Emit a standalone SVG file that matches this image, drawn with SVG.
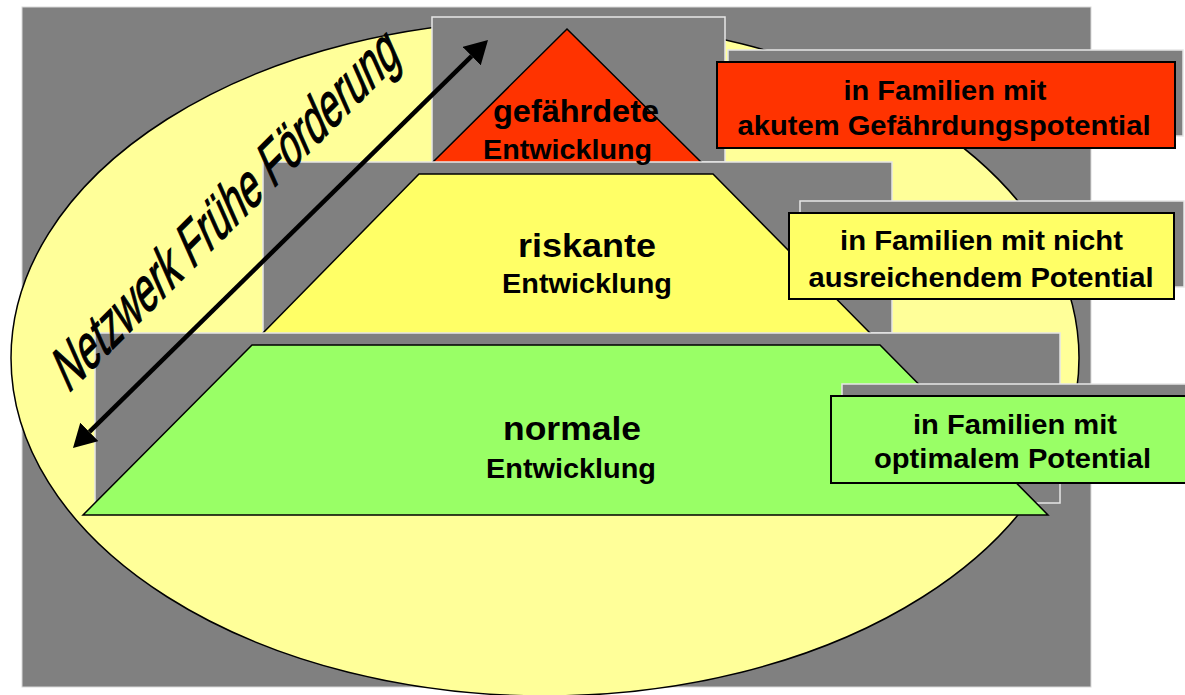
<svg xmlns="http://www.w3.org/2000/svg" width="1185" height="695" viewBox="0 0 1185 695">
  <defs>
    <style>
      .bg { fill: #808080; stroke: #d9d9d9; stroke-width: 1; }
      .shade { fill: #808080; stroke: #e6e6e6; stroke-width: 1.5; }
      .shape { stroke: #000; stroke-width: 1.5; stroke-linejoin: miter; }
      .box { stroke: #000; stroke-width: 2; }
      .lbl { font-family: "Liberation Sans", Arial, sans-serif; font-weight: bold; fill: #000; text-anchor: middle; }
      .big { font-size: 33px; }
      .mid { font-size: 27px; }
      .box-t { font-size: 28px; }
      .net { font-family: "Liberation Sans", Arial, sans-serif; font-size: 40px; fill: #000; stroke: #000; stroke-width: 0.8; }
    </style>
    <marker id="head" markerUnits="userSpaceOnUse" markerWidth="23" markerHeight="26" refX="0" refY="13" orient="auto-start-reverse" viewBox="0 0 23 26">
      <path d="M0,0 L23,13 L0,26 Z" fill="#000"/>
    </marker>
  </defs>

  <rect class="bg" x="22" y="7" width="1069" height="680"/>
  <ellipse id="network-ellipse" cx="545" cy="358" rx="534" ry="338" fill="#FFFF99" stroke="#000" stroke-width="1.5"/>

  <g id="level-top">
    <rect class="shade" x="432" y="17" width="293" height="145"/>
    <polygon class="shape" fill="#FF3300" points="567,29 702,163 432,163"/>
  </g>

  <g id="level-middle">
    <rect class="shade" x="263" y="162" width="629" height="171"/>
    <polygon class="shape" fill="#FFFF66" points="419,174 713,174 871,334 262,334"/>
  </g>

  <g id="level-bottom">
    <rect class="shade" x="95" y="333" width="965" height="170"/>
    <polygon class="shape" fill="#99FF66" points="252,345 880,345 1048,515 83,515"/>
  </g>

  <g id="labels-pyramid">
    <text class="lbl big" x="576" y="122" style="font-size:32px" textLength="166" lengthAdjust="spacingAndGlyphs">gefährdete</text>
    <text class="lbl mid" x="567.5" y="159" textLength="169" lengthAdjust="spacingAndGlyphs">Entwicklung</text>
    <text class="lbl big" x="587" y="257" textLength="138" lengthAdjust="spacingAndGlyphs">riskante</text>
    <text class="lbl mid" x="587" y="293" textLength="170" lengthAdjust="spacingAndGlyphs">Entwicklung</text>
    <text class="lbl big" x="572" y="440" textLength="138" lengthAdjust="spacingAndGlyphs">normale</text>
    <text class="lbl mid" x="571" y="478" textLength="170" lengthAdjust="spacingAndGlyphs">Entwicklung</text>
  </g>

  <g id="box-red">
    <rect class="shade" x="728" y="50" width="455" height="86"/>
    <rect class="box" fill="#FF3300" x="717" y="62" width="458" height="86"/>
    <text class="lbl box-t" x="945" y="99.5" textLength="203" lengthAdjust="spacingAndGlyphs">in Familien mit</text>
    <text class="lbl box-t" x="944" y="135" textLength="413" lengthAdjust="spacingAndGlyphs">akutem Gefährdungspotential</text>
  </g>

  <g id="box-yellow">
    <rect class="shade" x="800" y="201" width="384" height="86"/>
    <rect class="box" fill="#FFFF66" x="789" y="213" width="385" height="86"/>
    <text class="lbl box-t" x="981.5" y="249.5" textLength="283" lengthAdjust="spacingAndGlyphs">in Familien mit nicht</text>
    <text class="lbl box-t" x="981" y="286.5" textLength="345" lengthAdjust="spacingAndGlyphs">ausreichendem Potential</text>
  </g>

  <g id="box-green">
    <rect class="shade" x="842" y="384" width="360" height="86"/>
    <rect class="box" fill="#99FF66" x="831" y="396" width="364" height="87"/>
    <text class="lbl box-t" x="1015" y="434" textLength="204" lengthAdjust="spacingAndGlyphs">in Familien mit</text>
    <text class="lbl box-t" x="1012.5" y="468" textLength="277" lengthAdjust="spacingAndGlyphs">optimalem Potential</text>
  </g>

  <g id="connectors">
    <line x1="89.4" y1="431.9" x2="471.6" y2="56.1" stroke="#000" stroke-width="4.5" marker-start="url(#head)" marker-end="url(#head)"/>
  </g>

  <g id="network-label">
    <text class="net" x="0" y="0" transform="matrix(0.698 -0.698 0.626 1.407 68 394)">Netzwerk Frühe Förderung</text>
  </g>
</svg>
